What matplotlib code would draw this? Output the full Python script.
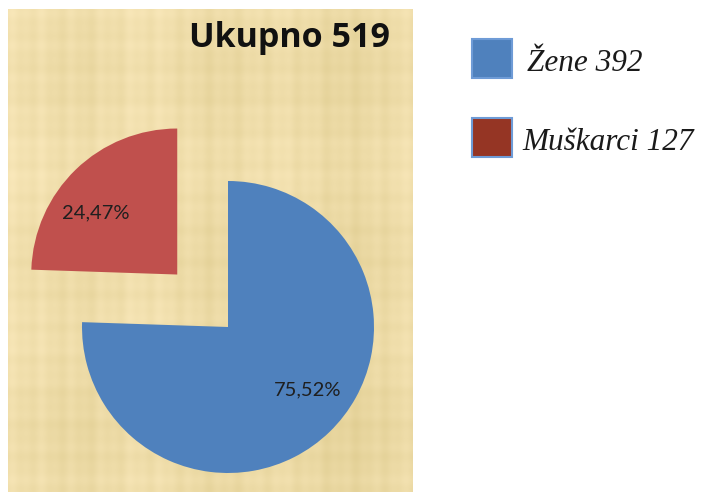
import numpy as np
import matplotlib
matplotlib.use("Agg")
import matplotlib.pyplot as plt
from matplotlib.patches import Rectangle

# ---- data ----
categories = ["Žene", "Muškarci"]
counts = [392, 127]
pct_labels = ["75,52%", "24,47%"]
legend_labels = ["Žene 392", "Muškarci 127"]
title = "Ukupno 519"
explode = [0, 0.5]

# ---- style ----
pie_colors = ["#4F81BD", "#C0504D"]
legend_fill = ["#4F81BD", "#953524"]
legend_edge = ["#6E9BD6", "#6E9BD6"]
W, H = 702, 492

fig = plt.figure(figsize=(W / 100, H / 100), dpi=100)
fig.patch.set_facecolor("white")

# papyrus-like background panel (decorative texture)
px0, px1, py0, py1 = 8, 413, 9, 492
bg = fig.add_axes([px0 / W, 0, (px1 - px0) / W, (py1 - py0) / H])
bg.set_axis_off()
nx, ny = px1 - px0, py1 - py0
xx = np.arange(nx)[None, :]
yy = np.arange(ny)[:, None]
vert = (np.sin(xx * 0.43) * 0.3 + np.sin(xx * 0.21 + 0.5) * 0.35
        + np.sin(xx * 0.047 + 1.3) * 0.5 + np.sin(xx * 0.013 + 0.4) * 0.4)
horz = (np.sin(yy * 0.39 + 0.2) * 0.25 + np.sin(yy * 0.19 + 0.7) * 0.3
        + np.sin(yy * 0.036 + 2.1) * 0.45 + np.sin(yy * 0.011) * 0.35)
tex = vert * 5 + horz * 4
base = np.array([238, 220, 168], dtype=float)
shade = np.array([1.0, 1.05, 1.6])
img = base[None, None, :] + tex[:, :, None] * shade[None, None, :]
img = np.clip(img, 0, 255) / 255.0
bg.imshow(img, aspect="auto", interpolation="bilinear")

# pie axes: data units = radius, center at pixel (228, 327)
cx, cy, r = 228, 327, 146
ax = fig.add_axes([0, 0, 1, 1])
wedges, _ = ax.pie(counts, colors=pie_colors, startangle=90, counterclock=False,
                   explode=explode, radius=1, center=(0, 0),
                   wedgeprops=dict(linewidth=0))
ax.set_xlim((0 - cx) / r, (W - cx) / r)
ax.set_ylim((cy - H) / r, cy / r)
ax.set_aspect("equal")
ax.set_axis_off()

label_pos = [((308 - cx) / r, (cy - 390) / r), ((96 - cx) / r, (cy - 213) / r)]
for (lx, ly), lab in zip(label_pos, pct_labels):
    ax.text(lx, ly, lab, ha="center", va="center", fontsize=14.5,
            family="Lato", color="#1F1F1F")

# title
fig.text(390 / W, 1 - 47 / H, title, ha="right", va="baseline",
         fontsize=24.5, family="Open Sans", fontweight="bold", color="#111111")

# legend (manual)
sq_y = [39, 118]
txt_y = [71, 150]
for i in range(2):
    fig.patches.append(Rectangle((472 / W, 1 - (sq_y[i] + 39) / H), 40 / W, 39 / H,
                                 transform=fig.transFigure, facecolor=legend_fill[i],
                                 edgecolor=legend_edge[i], linewidth=1.5))
    fig.text((527 if i == 0 else 522) / W, 1 - txt_y[i] / H, legend_labels[i],
             ha="left", va="baseline", fontsize=22.5, family="Liberation Serif",
             style="italic", color="#1A1A1A")

fig.savefig("out.png", dpi=100, facecolor="white")
